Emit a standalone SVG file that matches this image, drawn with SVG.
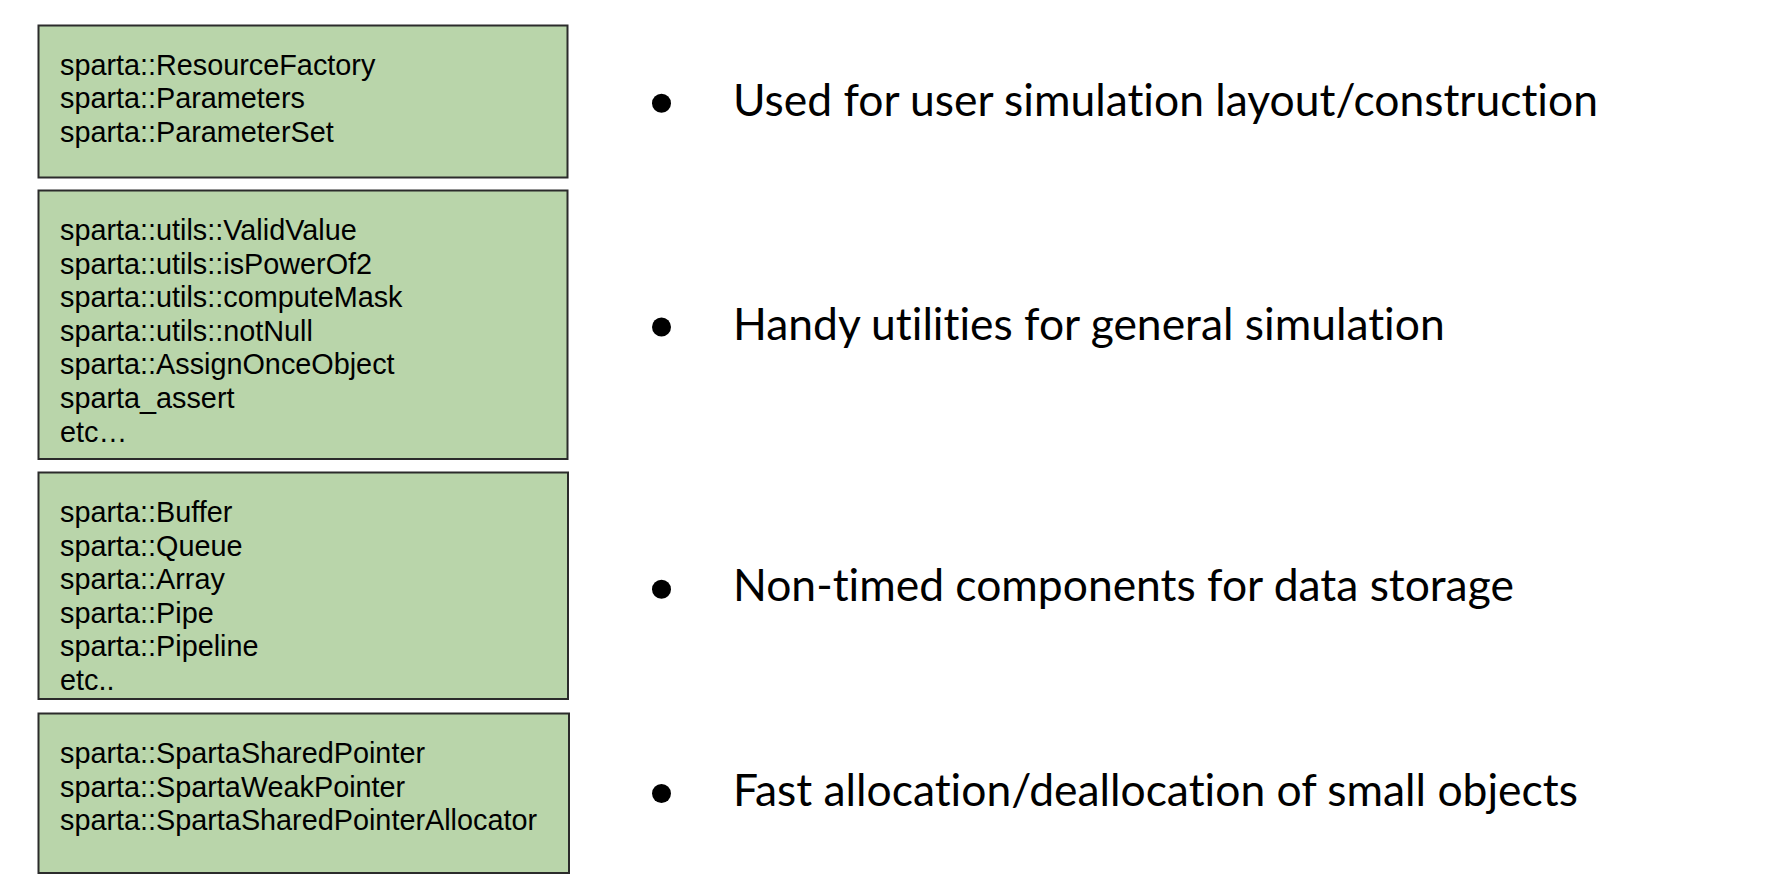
<svg xmlns="http://www.w3.org/2000/svg" width="1790" height="887" viewBox="0 0 1790 887">
<style>
.box{fill:#b9d5aa;stroke:#2b2b2b;stroke-width:2}
.code{font-family:"Liberation Sans",Arial,sans-serif;font-size:28.8px;fill:#000}
.bul{font-family:Lato,"Noto Sans",sans-serif;font-size:44.4px;fill:#000;font-variant-ligatures:none;font-feature-settings:"liga" 0}
.dot{fill:#000}
</style>
<rect width="1790" height="887" fill="#ffffff"/>
<g id="node-construction">
<rect class="box" x="38.5" y="25.5" width="529" height="152"/>
<text class="code" x="60" y="74.5">sparta::ResourceFactory</text>
<text class="code" x="60" y="108">sparta::Parameters</text>
<text class="code" x="60" y="141.5">sparta::ParameterSet</text>
</g>
<g id="node-utilities">
<rect class="box" x="38.5" y="190.5" width="529" height="268.5"/>
<text class="code" x="60" y="240">sparta::utils::ValidValue</text>
<text class="code" x="60" y="273.6">sparta::utils::isPowerOf2</text>
<text class="code" x="60" y="307.2">sparta::utils::computeMask</text>
<text class="code" x="60" y="340.8">sparta::utils::notNull</text>
<text class="code" x="60" y="374.4">sparta::AssignOnceObject</text>
<text class="code" x="60" y="408">sparta_assert</text>
<text class="code" x="60" y="441.6">etc…</text>
</g>
<g id="node-storage">
<rect class="box" x="38.5" y="472.5" width="529.5" height="226.5"/>
<text class="code" x="60" y="522">sparta::Buffer</text>
<text class="code" x="60" y="555.6">sparta::Queue</text>
<text class="code" x="60" y="589.2">sparta::Array</text>
<text class="code" x="60" y="622.8">sparta::Pipe</text>
<text class="code" x="60" y="656.4">sparta::Pipeline</text>
<text class="code" x="60" y="690">etc..</text>
</g>
<g id="node-allocation">
<rect class="box" x="38.5" y="713.5" width="530.5" height="159.5"/>
<text class="code" x="60" y="763">sparta::SpartaSharedPointer</text>
<text class="code" x="60" y="796.5">sparta::SpartaWeakPointer</text>
<text class="code" x="60" y="830">sparta::SpartaSharedPointerAllocator</text>
</g>
<g id="connectors"></g>
<g id="bullets">
<circle class="dot" cx="661.5" cy="103.3" r="9.5"/>
<text class="bul" x="733" y="116">Used for user simulation layout/construction</text>
<circle class="dot" cx="661.5" cy="327" r="9.5"/>
<text class="bul" x="733" y="339.5">Handy utilities for general simulation</text>
<circle class="dot" cx="661.5" cy="589.3" r="9.5"/>
<text class="bul" x="733" y="601">Non-timed components for data storage</text>
<circle class="dot" cx="661.5" cy="793.5" r="9.5"/>
<text class="bul" x="733" y="806">Fast allocation/deallocation of small objects</text>
</g>
</svg>
